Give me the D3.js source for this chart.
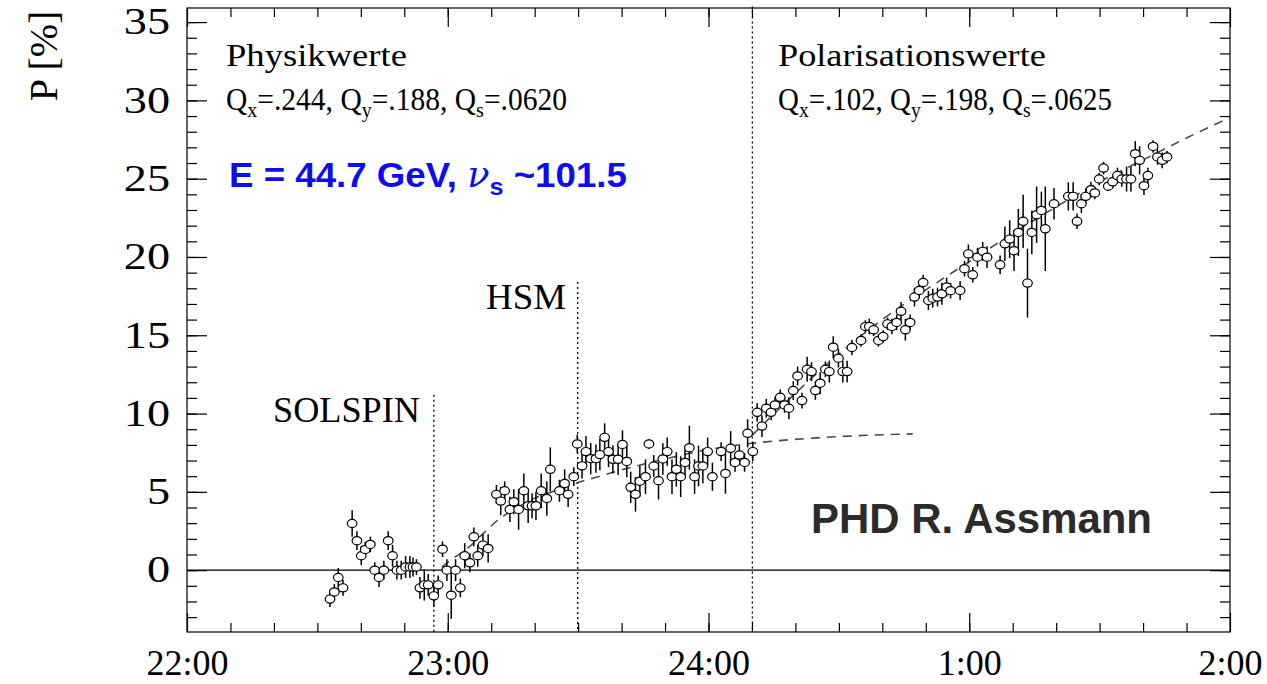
<!DOCTYPE html>
<html>
<head>
<meta charset="utf-8">
<script src="https://cdn.jsdelivr.net/npm/d3@7"></script>
<style>
  body { margin: 0; background: #fff; }
  svg { display: block; }
  .serif { font-family: "Liberation Serif", "Times New Roman", serif; }
  .sans { font-family: "Liberation Sans", Arial, sans-serif; font-weight: bold; }
</style>
</head>
<body>
<svg id="chart" width="1267" height="684"></svg>
<script>
// minutes after 22:00, polarisation in %, error in %
var times = [32.9,33.9,34.8,35.9,38.0,39.1,40.1,41.0,42.2,43.2,44.2,45.3,46.3,47.3,48.3,49.3,50.3,51.3,52.0,52.8,
  53.6,54.6,55.5,56.8,57.8,58.8,59.8,60.8,61.8,62.9,63.9,65.1,66.0,66.9,68.1,69.3,
  71.2,72.2,73.1,74.3,75.2,76.3,77.5,78.5,79.4,80.3,81.5,82.8,83.6,85.7,86.9,87.7,89.0,89.8,90.9,91.8,92.9,94.1,
  95.0,96.1,97.0,98.0,99.2,100.2,101.2,102.1,103.2,104.2,105.5,106.3,107.4,108.5,109.5,110.5,111.6,112.6,113.6,
  114.6,115.6,116.8,117.7,118.7,119.8,120.9,122.9,123.9,125.1,126.1,127.1,128.3,129.0,130.2,
  131.2,132.3,133.3,134.4,135.3,136.5,137.5,138.5,139.5,140.5,141.5,142.7,143.7,144.6,145.7,146.9,147.8,148.7,
  149.9,150.9,151.9,153.0,155.1,156.1,157.0,158.0,159.1,160.2,161.2,162.2,163.3,164.3,165.3,166.4,167.4,168.5,
  169.4,170.6,171.6,172.7,173.7,174.8,175.7,177.9,
  178.9,179.8,180.8,181.9,183.1,184.1,187.1,188.2,189.3,190.3,191.3,192.4,193.4,194.4,195.5,196.6,197.5,199.5,
  202.8,203.9,204.8,205.8,206.8,208.0,208.9,209.9,210.9,212.0,213.0,214.1,215.1,216.2,217.2,218.2,219.2,220.2,
  221.1,222.3,223.3,224.4,225.5];
var pol = [-1.85,-1.39,-0.47,-1.13,2.98,1.88,0.92,1.32,1.64,0.0,-0.47,0.0,1.88,0.92,0.0,0.0,0.2,0.2,0.2,0.2,
  -1.13,-0.94,-0.94,-1.64,-0.94,1.34,0.0,-1.6,0.0,-1.13,0.92,0.47,2.13,0.92,1.6,1.39,
  4.84,4.41,5.07,3.88,4.37,3.88,5.07,4.11,4.11,4.11,5.07,4.58,6.44,5.07,5.54,4.84,5.97,8.06,6.66,7.57,7.12,7.12,
  7.38,8.48,7.57,7.08,7.08,8.03,6.94,5.29,4.84,5.68,5.97,8.06,6.65,5.71,7.1,7.57,5.97,6.44,5.97,
  6.88,7.82,5.97,6.65,6.65,7.57,5.97,7.57,6.18,7.78,6.88,7.35,6.88,8.74,7.57,
  10.08,9.2,10.34,10.08,10.55,11.04,10.55,10.34,11.47,12.4,10.83,12.83,12.68,11.47,11.94,12.83,12.68,14.24,
  13.54,12.68,12.68,14.22,14.67,15.56,15.56,15.35,14.67,14.92,15.73,15.56,15.82,16.53,15.35,15.82,17.44,17.86,
  18.37,17.22,17.37,17.44,17.65,18.08,17.85,17.86,
  19.25,20.2,18.86,19.99,20.36,19.99,19.5,20.84,21.14,20.4,21.57,22.28,18.33,21.57,22.7,22.97,21.8,23.4,
  23.87,23.87,22.28,23.4,23.87,24.3,24.09,24.98,25.68,24.52,24.8,25.2,24.98,24.98,24.98,26.6,26.17,24.55,
  25.2,27.06,26.39,26.17,26.39];
var errs = [0.5,0.5,0.6,0.5,0.85,0.6,0.6,0.5,0.5,0.5,0.6,0.6,0.6,0.7,0.6,0.6,0.7,0.7,0.6,0.5,
  0.7,1.0,0.7,0.7,0.6,0.5,0.7,1.5,0.7,0.6,0.8,0.6,0.6,0.7,0.7,0.9,
  0.6,0.9,0.6,0.8,0.8,1.3,1.1,1.1,0.8,0.9,1.1,1.1,1.4,0.7,0.9,0.8,0.6,0.6,0.8,1.0,1.0,0.9,
  1.0,0.9,1.0,0.9,1.0,0.9,1.0,1.0,1.1,1.0,1.1,0.3,0.7,1.2,1.0,0.9,1.1,1.1,1.3,
  1.0,1.4,1.1,1.3,1.1,0.9,0.9,0.6,1.3,1.1,0.6,0.6,0.6,0.9,0.6,
  0.6,0.7,0.6,0.5,0.5,0.5,0.5,0.7,0.6,0.6,0.5,0.8,0.6,0.6,0.7,0.5,0.7,0.7,
  0.6,0.7,0.7,0.5,0.4,0.4,0.5,0.4,0.4,0.4,0.4,0.5,0.5,0.6,0.7,0.5,0.6,0.5,
  0.5,0.6,0.6,0.6,0.7,0.6,0.5,0.6,
  0.5,0.6,0.5,0.6,0.6,0.7,0.6,1.1,1.2,1.3,1.5,1.7,2.2,1.4,1.8,1.2,2.7,1.0,
  0.9,0.9,0.5,0.6,0.5,0.5,0.4,0.4,0.4,0.3,0.4,0.5,0.5,0.8,0.8,0.8,0.9,0.6,
  0.5,0.4,0.5,0.5,0.4];

// dashed fit curves
var fit1Times = [58.6,62,65,68,72,76,80,85,90,95,100,110,120,130,145,167];
var fit1Pol   = [0.2,0.9,1.5,2.3,3.3,4.0,4.6,5.1,5.6,6.0,6.4,7.1,7.7,8.1,8.45,8.7];
var fit2Times = [130,140,150,160,170,180,190,200,210,220,230,240];
var fit2Pol   = [8.6,11.3,13.8,16.0,17.9,19.7,21.5,23.2,24.8,26.2,27.6,28.9];

// vertical markers (time, top value) and labels
var markTimes = [56.8,89.9,130.1];
var markTops  = [11.2,18.4,36];
var markNames = ["SOLSPIN","HSM",""];

var hourTicks  = [0,60,120,180,240];
var hourLabels = ["22:00","23:00","24:00","1:00","2:00"];
var yTicks = [0,5,10,15,20,25,30,35];

var svg = d3.select('#chart');
var padL = 187, padR = 1230, padT = 8, padB = 632;

var x = d3.scaleLinear().domain([0,240]).range([padL,padR]);
var y = d3.scaleLinear().domain([-3.95,35.9]).range([padB,padT]);

// frame
svg.append('rect')
  .attr('x',padL).attr('y',padT)
  .attr('width',padR-padL).attr('height',padB-padT)
  .attr('fill','none').attr('stroke','#000').attr('stroke-width',1.2);

// minor / major ticks on all four sides (ROOT style, inside)
var minorX = d3.range(10,240,10);
var minorY = d3.range(-3,36,1);
function drawAxis(axis, tx, ty){
  var g = svg.append('g').attr('transform','translate('+tx+','+ty+')').call(axis);
  g.select('.domain').remove();
  g.selectAll('.tick line').attr('stroke','#000').attr('stroke-width',1.2);
  return g;
}
drawAxis(d3.axisBottom(x).tickValues(minorX).tickSize(-9).tickFormat(''), 0, padB);
drawAxis(d3.axisTop(x).tickValues(minorX).tickSize(-9).tickFormat(''), 0, padT);
drawAxis(d3.axisLeft(y).tickValues(minorY).tickSize(-10).tickFormat(''), padL, 0);
drawAxis(d3.axisRight(y).tickValues(minorY).tickSize(-10).tickFormat(''), padR, 0);

var xb = drawAxis(d3.axisBottom(x).tickValues(hourTicks).tickSize(-19).tickPadding(17)
  .tickFormat(function(d,i){ return hourLabels[i]; }), 0, padB);
drawAxis(d3.axisTop(x).tickValues(hourTicks).tickSize(-19).tickFormat(''), 0, padT);
var yl = drawAxis(d3.axisLeft(y).tickValues(yTicks).tickSize(-20).tickPadding(17), padL, 0);
drawAxis(d3.axisRight(y).tickValues(yTicks).tickSize(-20).tickFormat(''), padR, 0);

xb.selectAll('text').attr('class','serif').attr('font-size',36).attr('fill','#000');
// y labels are drawn wider in the original
yl.selectAll('text').attr('class','serif').attr('font-size',37).attr('fill','#000')
  .attr('transform','translate(-17,0) scale(1.25,1) translate(17,0)');

// axis title
svg.append('text').attr('class','serif')
  .attr('transform','translate(57,56) rotate(-90)')
  .attr('text-anchor','middle').attr('font-size',40)
  .text('P [%]');

// zero line
svg.append('line')
  .attr('x1',padL).attr('x2',padR)
  .attr('y1',y(0)).attr('y2',y(0))
  .attr('stroke','#000').attr('stroke-width',1.2);

// stretch a text element horizontally to a given width
function fitWidth(t, x0, w){
  var b = t.node().getBBox();
  var sx = w / b.width;
  t.attr('transform','translate('+x0+',0) scale('+sx+',1) translate('+(-b.x)+',0)');
}

// dotted markers
var labelLeft  = [273,486];
var labelWidth = [147,80];
markTimes.forEach(function(t,i){
  svg.append('line')
    .attr('x1',x(t)).attr('x2',x(t))
    .attr('y1',y(markTops[i])).attr('y2',padB)
    .attr('stroke','#000').attr('stroke-width',1.3)
    .attr('stroke-dasharray','2,3');
  if(markNames[i]){
    var lab = svg.append('text').attr('class','serif')
      .attr('x',0).attr('y',y(markTops[i])+27)
      .attr('font-size',35)
      .text(markNames[i]);
    fitWidth(lab, labelLeft[i], labelWidth[i]);
  }
});

// fits
var line = d3.line()
  .x(function(d){ return x(d[0]); })
  .y(function(d){ return y(d[1]); })
  .curve(d3.curveMonotoneX);
[[fit1Times,fit1Pol],[fit2Times,fit2Pol]].forEach(function(f){
  svg.append('path')
    .datum(d3.zip(f[0],f[1]))
    .attr('d',line)
    .attr('fill','none').attr('stroke','#4a4a4a')
    .attr('stroke-width',1.6).attr('stroke-dasharray','9,7');
});

// data
var pts = d3.range(times.length).map(function(i){
  return {t:times[i], p:pol[i], e:errs[i]};
});
svg.append('g').selectAll('line').data(pts).enter().append('line')
  .attr('x1',function(d){ return x(d.t); })
  .attr('x2',function(d){ return x(d.t); })
  .attr('y1',function(d){ return y(d.p-d.e); })
  .attr('y2',function(d){ return y(d.p+d.e); })
  .attr('stroke','#000').attr('stroke-width',1.5);
svg.append('g').selectAll('ellipse').data(pts).enter().append('ellipse')
  .attr('cx',function(d){ return x(d.t); })
  .attr('cy',function(d){ return y(d.p); })
  .attr('rx',4.8).attr('ry',4.1)
  .attr('fill','#fff').attr('stroke','#000').attr('stroke-width',1.2);

function qLine(x0, vals, w){
  var t = svg.append('text').attr('class','serif').attr('y',110).attr('font-size',31);
  var subs = ['x','y','s'];
  subs.forEach(function(s,i){
    t.append('tspan').text('Q');
    t.append('tspan').attr('dy',7).attr('font-size',21).text(s);
    t.append('tspan').attr('dy',-7).text('=' + vals[i] + (i<2 ? ', ' : ''));
  });
  fitWidth(t, x0, w);
}

var t1 = svg.append('text').attr('class','serif').attr('y',66).attr('font-size',32).text('Physikwerte');
fitWidth(t1, 226, 181);
var t2 = svg.append('text').attr('class','serif').attr('y',66).attr('font-size',32).text('Polarisationswerte');
fitWidth(t2, 778, 268);
qLine(226, ['.244','.188','.0620'], 341);
qLine(778, ['.102','.198','.0625'], 334);

// energy
var te = svg.append('text').attr('class','sans').attr('y',187).attr('font-size',35).attr('fill','#0d0df2');
te.append('tspan').text('E = 44.7 GeV, ');
te.append('tspan').attr('font-weight','normal').attr('font-family','"DejaVu Serif", serif').attr('font-style','italic').text('\u03bd');
te.append('tspan').attr('dy',8).attr('font-size',24).text('s');
te.append('tspan').attr('dy',-8).text(' ~101.5');
fitWidth(te, 229, 398);

var tp = svg.append('text').attr('class','sans').attr('y',533).attr('font-size',43).attr('fill','#2b2b2b')
  .text('PHD R. Assmann');
fitWidth(tp, 811, 341);
</script>
</body>
</html>
